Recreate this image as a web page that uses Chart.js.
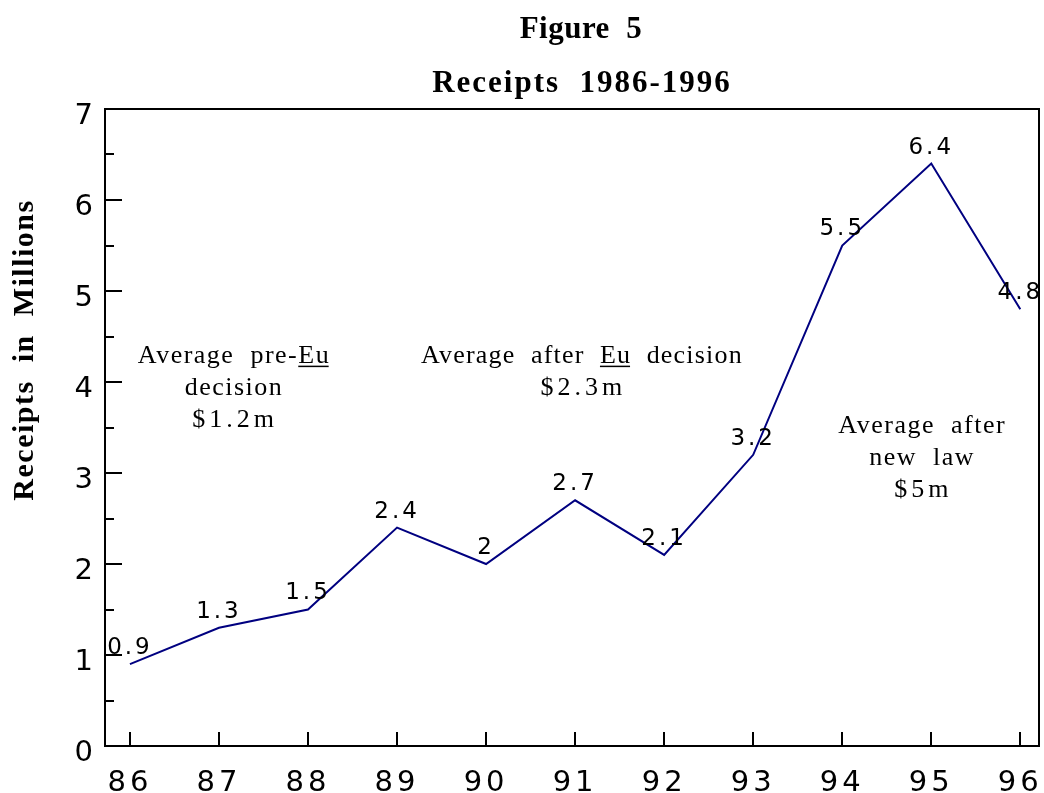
<!DOCTYPE html>
<html><head><meta charset="utf-8">
<script src="https://cdn.jsdelivr.net/npm/chart.js@4.4.1/dist/chart.umd.min.js"></script>
<style>html,body{margin:0;padding:0;background:#fff}canvas{display:block}</style>
</head><body>
<canvas id="c" width="1044" height="793" style="width:1044px;height:793px"></canvas>
<script>
// ---- data ----
const years = [86, 87, 88, 89, 90, 91, 92, 93, 94, 95, 96];
const receipts = [0.9, 1.3, 1.5, 2.4, 2.0, 2.7, 2.1, 3.2, 5.5, 6.4, 4.8];
const pointLabels = ['0.9', '1.3', '1.5', '2.4', '2', '2.7', '2.1', '3.2', '5.5', '6.4', '4.8'];
const yMajorTicks = [1, 2, 3, 4, 5, 6];
const yMinorTicks = [0.5, 1.5, 2.5, 3.5, 4.5, 5.5, 6.5];
const titleLines = ['Figure  5', 'Receipts  1986-1996'];
const yTitle = 'Receipts  in  Millions';
// text notes: segments between "_" are underlined; anchor in data units (x year, y value of first baseline)
const note1Lines = ['Average  pre-_Eu_', 'decision', '$1.2m'];
const note2Lines = ['Average  after  _Eu_  decision', '$2.3m'];
const note3Lines = ['Average  after', 'new  law', '$5m'];
const noteAnchors = [[87.16, 4.21], [91.07, 4.21], [94.89, 3.44]];

const SANS = '"DejaVu Sans", "Liberation Sans", sans-serif';
const SERIF = '"Liberation Serif", "Times New Roman", serif';

const extras = {
  id: 'extras',
  beforeUpdate(chart) { chart.ctx.letterSpacing = '4px'; },
  beforeDraw(chart) { chart.ctx.letterSpacing = '4px'; },
  afterDraw(chart) {
    const ctx = chart.ctx, ca = chart.chartArea, xs = chart.scales.x, ys = chart.scales.y;
    ctx.save();
    // frame
    ctx.strokeStyle = '#000';
    ctx.lineWidth = 2;
    ctx.strokeRect(ca.left, ca.top, ca.right - ca.left, ca.bottom - ca.top);
    // inward tick marks
    ctx.beginPath();
    yMajorTicks.forEach(v => { const p = Math.round(ys.getPixelForValue(v)); ctx.moveTo(ca.left, p); ctx.lineTo(ca.left + 17, p); });
    yMinorTicks.forEach(v => { const p = Math.round(ys.getPixelForValue(v)); ctx.moveTo(ca.left, p); ctx.lineTo(ca.left + 9, p); });
    years.forEach(v => { const p = Math.round(xs.getPixelForValue(v)); ctx.moveTo(p, ca.bottom); ctx.lineTo(p, ca.bottom - 14); });
    ctx.stroke();

    // point labels
    const meta = chart.getDatasetMeta(0);
    ctx.fillStyle = '#000';
    ctx.font = '23px ' + SANS;
    ctx.letterSpacing = '3px';
    ctx.textAlign = 'center';
    ctx.textBaseline = 'middle';
    meta.data.forEach((pt, i) => { ctx.fillText(pointLabels[i], pt.x, pt.y - 16); });

    // titles
    ctx.font = 'bold 31px ' + SERIF;
    ctx.textBaseline = 'alphabetic';
    ctx.letterSpacing = '0.5px';
    ctx.fillText(titleLines[0], 581, 38);
    ctx.letterSpacing = '2px';
    ctx.fillText(titleLines[1], 582, 92);

    // y-axis title
    ctx.save();
    ctx.translate(33, 350);
    ctx.rotate(-Math.PI / 2);
    ctx.font = 'bold 30px ' + SERIF;
    ctx.letterSpacing = '1.5px';
    ctx.fillText(yTitle, 0, 0);
    ctx.restore();

    // notes
    const notes = [note1Lines, note2Lines, note3Lines];
    ctx.font = '26px ' + SERIF;
    ctx.textAlign = 'left';
    notes.forEach((lines, n) => {
      const cx = xs.getPixelForValue(noteAnchors[n][0]);
      const by = ys.getPixelForValue(noteAnchors[n][1]);
      lines.forEach((line, li) => {
        const ls = line.indexOf('$') >= 0 ? 4 : (line.length > 20 ? 1.2 : 1.5);
        ctx.letterSpacing = ls + 'px';
        const segs = line.split('_');
        const widths = segs.map(s => ctx.measureText(s).width);
        const total = widths.reduce((a, b) => a + b, 0) - ls;
        let x = cx - total / 2;
        const y = by + li * 32;
        segs.forEach((s, si) => {
          ctx.fillText(s, x, y);
          if (si % 2 === 1) {
            ctx.lineWidth = 1.5;
            ctx.beginPath();
            ctx.moveTo(x, y + 3.5);
            ctx.lineTo(x + widths[si] - ls, y + 3.5);
            ctx.stroke();
          }
          x += widths[si];
        });
      });
    });
    ctx.restore();
  }
};

new Chart(document.getElementById('c'), {
  type: 'line',
  data: {
    datasets: [{
      data: years.map((y, i) => ({ x: y, y: receipts[i] })),
      borderColor: '#000080',
      borderWidth: 2,
      pointRadius: 0,
      tension: 0,
      fill: false
    }]
  },
  options: {
    responsive: false,
    devicePixelRatio: 1,
    animation: false,
    layout: { padding: { top: 109, right: 5, left: 0, bottom: 0 } },
    plugins: { legend: { display: false }, tooltip: { enabled: false }, title: { display: false } },
    scales: {
      x: {
        type: 'linear',
        min: 85.72,
        max: 96.21,
        afterBuildTicks: s => { s.ticks = years.map(v => ({ value: v })); },
        afterFit: s => { s.height = 47; s.paddingLeft = 0; s.paddingRight = 0; },
        grid: { display: false, drawTicks: false },
        border: { display: false },
        ticks: { font: { family: SANS, size: 29 }, color: '#000', padding: 20, maxRotation: 0, autoSkip: false, callback: v => String(v) }
      },
      y: {
        min: 0,
        max: 7,
        afterFit: s => { s.width = 105; s.paddingTop = 0; s.paddingBottom = 0; },
        grid: { display: false, drawTicks: false },
        border: { display: false },
        ticks: { stepSize: 1, font: { family: SANS, size: 29 }, color: '#000', padding: 8, labelOffset: 7 }
      }
    }
  },
  plugins: [extras]
});
</script>
</body></html>
